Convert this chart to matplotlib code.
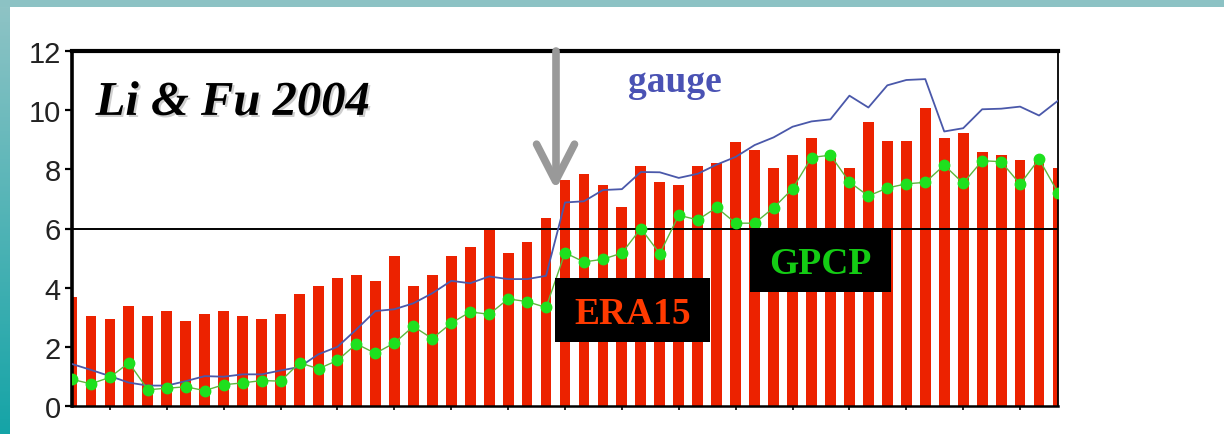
import numpy as np
import matplotlib
matplotlib.use("Agg")
import matplotlib.pyplot as plt
from matplotlib.patches import Rectangle
import matplotlib.patheffects as pe

# yearly values, one per bar
era15 = [3.68, 3.03, 2.94, 3.39, 3.03, 3.22, 2.86, 3.12, 3.22, 3.03,
         2.94, 3.12, 3.77, 4.06, 4.34, 4.42, 4.23, 5.07, 4.06, 4.42,
         5.07, 5.36, 5.95, 5.17, 5.53, 6.37, 7.65, 7.84, 7.47, 6.73,
         8.12, 7.56, 7.47, 8.12, 8.20, 8.94, 8.67, 8.03, 8.48, 9.05,
         8.55, 8.03, 9.60, 8.95, 8.95, 10.06, 9.05, 9.23, 8.58, 8.48,
         8.30, 8.35, 8.03]
gpcp = [0.90, 0.75, 0.97, 1.46, 0.55, 0.60, 0.65, 0.52, 0.72, 0.78,
        0.86, 0.84, 1.46, 1.26, 1.54, 2.10, 1.78, 2.13, 2.69, 2.28,
        2.80, 3.18, 3.10, 3.62, 3.53, 3.33, 5.18, 4.87, 4.96, 5.17,
        6.00, 5.15, 6.45, 6.29, 6.71, 6.18, 6.18, 6.70, 7.34, 8.40,
        8.48, 7.57, 7.10, 7.37, 7.51, 7.56, 8.14, 7.53, 8.29, 8.26,
        7.50, 8.35, 7.21]
gauge = [1.42, 1.22, 1.01, 0.79, 0.69, 0.69, 0.84, 1.01, 0.99, 1.07,
         1.07, 1.20, 1.32, 1.75, 2.00, 2.59, 3.21, 3.27, 3.47, 3.81,
         4.23, 4.15, 4.38, 4.29, 4.29, 4.40, 6.88, 6.92, 7.30, 7.33,
         7.91, 7.90, 7.71, 7.85, 8.16, 8.42, 8.82, 9.08, 9.44, 9.62,
         9.69, 10.49, 10.09, 10.84, 11.02, 11.05, 9.28, 9.39, 10.03, 10.05,
         10.12, 9.82, 10.32]
yticks = [0, 2, 4, 6, 8, 10, 12]
arrow_x = 25.5   # jump in the gauge record
arrow_tip = 7.6

W, H = 1224, 435
x = np.arange(len(era15))

fig = plt.figure(figsize=(W / 100, H / 100), dpi=100)
fig.patch.set_facecolor("white")


def fx(px):
    return px / W


def fy(py):
    return 1 - py / H


# slide frame: teal band on top, gradient band on the left
fig.add_artist(Rectangle((0, fy(8)), 1, 8 / H, transform=fig.transFigure,
                         facecolor="#8cc2c4", edgecolor="none", zorder=0))
band = fig.add_axes([0, 0, fx(10), fy(8)])
grad = np.linspace(0, 1, 256).reshape(-1, 1)
band.imshow(grad, aspect="auto",
            cmap=matplotlib.colors.LinearSegmentedColormap.from_list(
                "band", ["#8ec3c5", "#15a4a7"]))
band.set_axis_off()

ax = fig.add_axes([fx(72), 1 - 407 / H, fx(1058 - 72), (407 - 52) / H])

ax.bar(x, era15, width=0.57, color="#ec2200", zorder=2)
ax.axhline(6, color="black", lw=1.4, zorder=2.5)
ax.plot(x, gauge, color="#4a58aa", lw=1.3, zorder=3)
ax.plot(x, gpcp, color="#5cb83c", lw=1.0, marker="o", markersize=7.5,
        markerfacecolor="#1ee01e", markeredgecolor="#1ee01e", zorder=4)

ax.set_xlim(0, len(era15) - 1)
ax.set_ylim(0, 12)
ax.set_yticks(yticks)
ax.set_yticklabels([str(v) for v in yticks],
                   family=["Liberation Sans", "DejaVu Sans"],
                   fontsize=21, color="#222222")
ax.set_xticks(x[2::3])
ax.set_xticklabels([])
ax.tick_params(axis="y", length=5, width=1.6, pad=3)
ax.tick_params(axis="x", length=3, width=1.2)
ax.spines["top"].set_linewidth(3)
ax.spines["left"].set_linewidth(2.6)
ax.spines["bottom"].set_linewidth(1.8)
ax.spines["right"].set_linewidth(1.3)

# arrow marking the step in the gauge series
arrow_kw = dict(color="#999999", lw=5.5, solid_capstyle="round",
                solid_joinstyle="round", zorder=5, clip_on=False)
ax.plot([arrow_x, arrow_x], [12, arrow_tip], **arrow_kw)
ax.plot([arrow_x - 1.0, arrow_x, arrow_x + 1.0],
        [arrow_tip + 1.25, arrow_tip, arrow_tip + 1.25], **arrow_kw)

ax.text(0.024, 0.82, "Li & Fu 2004", transform=ax.transAxes,
        family="Liberation Serif", weight="bold", style="italic",
        fontsize=35, color="black", va="baseline", zorder=6,
        path_effects=[pe.SimplePatchShadow(offset=(1.5, -1.5),
                                           shadow_rgbFace="#888888", alpha=0.4),
                      pe.Normal()])
fig.text(fx(675), fy(92), "gauge", family="Liberation Serif", weight="bold",
         fontsize=27, color="#4a52b4", ha="center", va="baseline")

# black label boxes
for (x0, y0, x1, y1, label, col) in [(555, 279, 710, 343, "ERA15", "#ff3a00"),
                                     (750, 229, 891, 293, "GPCP", "#14cc14")]:
    fig.add_artist(Rectangle((fx(x0), fy(y1)), fx(x1 - x0), (y1 - y0) / H,
                             transform=fig.transFigure, facecolor="black",
                             edgecolor="none", zorder=7))
    fig.text(fx((x0 + x1) / 2), fy((y0 + y1) / 2 + 13), label,
             family="Liberation Serif", weight="bold", fontsize=27, color=col,
             ha="center", va="baseline", zorder=8)

fig.savefig("out.png", dpi=100)
